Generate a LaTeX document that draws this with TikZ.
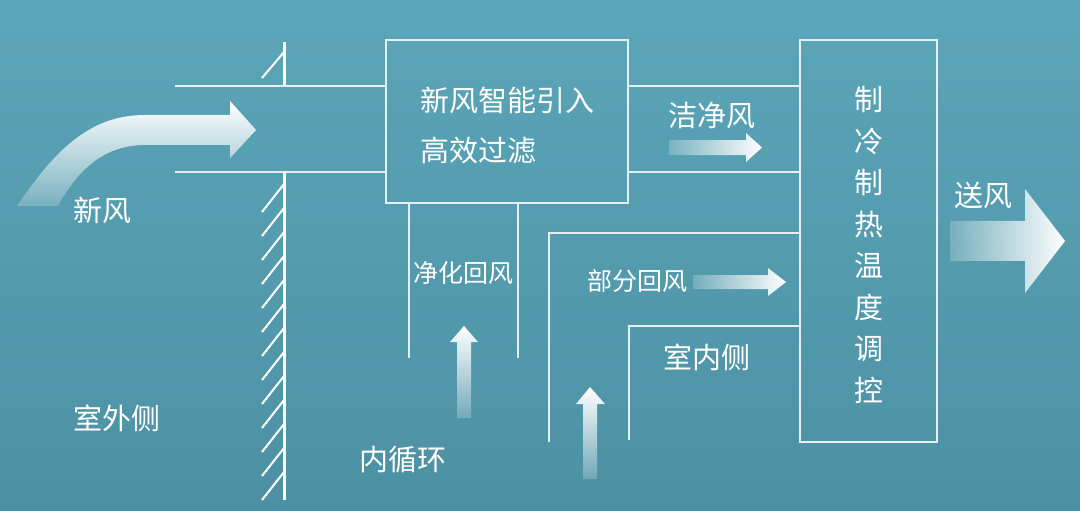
\documentclass[tikz,border=0pt]{standalone}
\usepackage{fontspec}
\setmainfont{Noto Sans CJK SC}
\usetikzlibrary{fadings}

\definecolor{bgtop}{HTML}{5BA6B8}
\definecolor{bgbot}{HTML}{4D90A4}
\definecolor{duct}{HTML}{E4F1F4}

\tikzfading[name=fadeE, left color=transparent!80, middle color=transparent!0, right color=transparent!0]
\tikzfading[name=fadeN, bottom color=transparent!80, middle color=transparent!0, top color=transparent!0]

\begin{document}
\begin{tikzpicture}[x=0.5pt,y=-0.5pt,
  every node/.style={text=white,inner sep=0pt},
  lbl/.style={font=\fontsize{14.5pt}{17pt}\selectfont},
  sml/.style={font=\fontsize{12.5pt}{15pt}\selectfont},
  box/.style={draw=duct,line width=0.9pt},
  line/.style={draw=duct,line width=0.9pt},
  wall/.style={draw=white,line width=1.5pt},
  hatch/.style={draw=white,line width=1pt},
  wind/.style={fill=white}]
\useasboundingbox (0,0) rectangle (1080,510);
\shade[top color=bgtop,bottom color=bgbot] (0,0) rectangle (1080,510);
\node[box,minimum width=121pt,minimum height=81.5pt] (filter) at (507,121.5) {};
\node[box,minimum width=68.5pt,minimum height=201pt] (climate) at (868.5,241) {};
\node[lbl,anchor=west] (filterA) at (420,100) {新风智能引入};
\node[lbl,anchor=west] (filterB) at (420,150) {高效过滤};
\node[lbl,align=center,font=\fontsize{14.5pt}{20.75pt}\selectfont] (ctrl) at (869,245) {制\\冷\\制\\热\\温\\度\\调\\控};
\node[lbl] (fresh) at (102,210) {新风};
\node[lbl] (outside) at (117,418) {室外侧};
\node[lbl] (loop) at (403,460) {内循环};
\node[sml] (purified) at (463,273) {净化回风};
\node[lbl] (clean) at (712,115) {洁净风};
\node[sml] (partial) at (637,281) {部分回风};
\node[lbl] (inside) at (707,357) {室内侧};
\node[lbl] (supply) at (983,195) {送风};
\coordinate (inTop) at (175,86);
\coordinate (inBot) at (175,172);
\coordinate (wallTop) at (284,42);
\coordinate (wallBot) at (284,500);
\coordinate (retL) at (409,358);
\coordinate (retR) at (518,358);
\coordinate (partA) at (549,442);
\coordinate (partB) at (549,233);
\coordinate (roomA) at (629,440);
\coordinate (roomB) at (629,326);
\draw[line] (inTop) -- (inTop -| filter.west);
\draw[line] (inBot) -- (inBot -| filter.west);
\draw[line] (filter.east |- inTop) -- (inTop -| climate.west);
\draw[line] (filter.east |- inBot) -- (inBot -| climate.west);
\draw[line] (filter.south -| retL) -- (retL);
\draw[line] (filter.south -| retR) -- (retR);
\draw[line] (partA) -- (partB) -- (partB -| climate.west);
\draw[line] (roomA) -- (roomB) -- (roomB -| climate.west);
\draw[wall] (wallTop) -- (wallTop |- inTop);
\draw[wall] (wallBot) -- (wallBot |- inBot);
\draw[hatch] (284,52) -- ++(-22,26);
\foreach \y in {184,208,...,472}
  \draw[hatch] (284,\y) -- ++(-22,28);
\fill[wind,path fading=fadeN] (17,206) .. controls (55,150) and (90,115) .. (145,115) -- (230,115) -- (230,101) -- (256,130) -- (230,158) -- (230,145) -- (145,145) .. controls (100,145) and (75,175) .. (58,206) -- cycle;
\fill[wind,path fading=fadeE] (669,140) -- (746,140) -- (746,133) -- (762,147.5) -- (746,162) -- (746,155) -- (669,155) -- cycle;
\fill[wind,path fading=fadeE] (693,275) -- (768,275) -- (768,268) -- (786,282) -- (768,296) -- (768,289) -- (693,289) -- cycle;
\fill[wind,path fading=fadeE] (950,221) -- (1025,221) -- (1025,189) -- (1065,241) -- (1025,293) -- (1025,261) -- (950,261) -- cycle;
\fill[wind,path fading=fadeN] (457,418) -- (457,342) -- (450,342) -- (464,326) -- (478,342) -- (471,342) -- (471,418) -- cycle;
\fill[wind,path fading=fadeN] (583,479) -- (583,404) -- (576,404) -- (590,387) -- (605,404) -- (597,404) -- (597,479) -- cycle;
\end{tikzpicture}
\end{document}
